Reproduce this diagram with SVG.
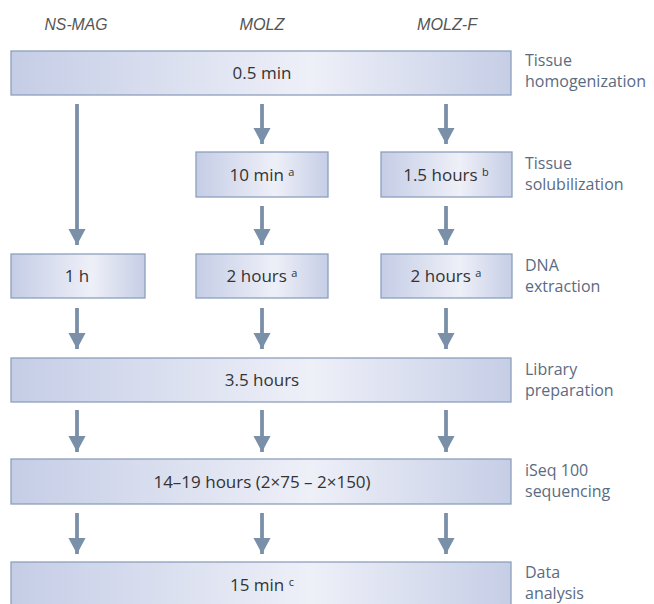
<svg xmlns="http://www.w3.org/2000/svg" width="654" height="604" viewBox="0 0 654 604">
<defs>
<linearGradient id="g" x1="0" y1="0" x2="1" y2="0">
<stop offset="0" stop-color="#c5cde6"/>
<stop offset="0.6" stop-color="#eef0f8"/>
<stop offset="1" stop-color="#c6cee6"/>
</linearGradient>
<marker id="ah" markerWidth="4.5" markerHeight="4.5" refX="4.2" refY="2.25" orient="auto" markerUnits="strokeWidth">
<path d="M0,0 L4.2,2.25 L0,4.5 z" fill="#7a8fa8"/>
</marker>
</defs>
<style>
.box{fill:url(#g);stroke:#8d9fbc;stroke-width:1.3}
.t{font-family:"Open Sans","Liberation Sans",sans-serif;font-size:17px;fill:#333;text-anchor:middle}
.sup{font-size:11px}
.lab{font-family:"Open Sans","Liberation Sans",sans-serif;font-size:16px;fill:#5b6b82}
.hd{font-family:"Liberation Sans",Arial,sans-serif;font-style:italic;font-size:16px;fill:#555;text-anchor:middle}
.c line{stroke:#7a8fa8;stroke-width:3.8;marker-end:url(#ah)}
</style>
<g id="headers">
<text class="hd" x="76" y="30" textLength="63" lengthAdjust="spacingAndGlyphs">NS-MAG</text>
<text class="hd" x="262" y="30" textLength="45" lengthAdjust="spacingAndGlyphs">MOLZ</text>
<text class="hd" x="447" y="30" textLength="60" lengthAdjust="spacingAndGlyphs">MOLZ-F</text>
</g>
<g id="labels">
<text class="lab" x="525" y="66">Tissue</text>
<text class="lab" x="525" y="87">homogenization</text>
<text class="lab" x="525" y="169">Tissue</text>
<text class="lab" x="525" y="190">solubilization</text>
<text class="lab" x="525" y="271">DNA</text>
<text class="lab" x="525" y="292">extraction</text>
<text class="lab" x="525" y="375">Library</text>
<text class="lab" x="525" y="396">preparation</text>
<text class="lab" x="525" y="476">iSeq 100</text>
<text class="lab" x="525" y="497">sequencing</text>
<text class="lab" x="525" y="578">Data</text>
<text class="lab" x="525" y="599">analysis</text>
</g>
<g id="n-homog">
<rect class="box" x="11" y="51" width="500" height="44"/>
<text class="t" x="262" y="79">0.5 min</text>
</g>
<g id="n-sol-molz">
<rect class="box" x="196" y="152" width="132" height="45"/>
<text class="t" x="262" y="181">10 min <tspan class="sup" dy="-5">a</tspan></text>
</g>
<g id="n-sol-molzf">
<rect class="box" x="381" y="152" width="131" height="45"/>
<text class="t" x="446" y="181">1.5 hours <tspan class="sup" dy="-5">b</tspan></text>
</g>
<g id="n-ext-nsmag">
<rect class="box" x="11" y="254" width="134" height="44"/>
<text class="t" x="77" y="282">1 h</text>
</g>
<g id="n-ext-molz">
<rect class="box" x="196" y="254" width="132" height="44"/>
<text class="t" x="262" y="282">2 hours <tspan class="sup" dy="-5">a</tspan></text>
</g>
<g id="n-ext-molzf">
<rect class="box" x="381" y="254" width="131" height="44"/>
<text class="t" x="446" y="282">2 hours <tspan class="sup" dy="-5">a</tspan></text>
</g>
<g id="n-lib">
<rect class="box" x="11" y="358" width="500" height="44"/>
<text class="t" x="262" y="386">3.5 hours</text>
</g>
<g id="n-seq">
<rect class="box" x="11" y="459" width="500" height="45"/>
<text class="t" x="262" y="488">14–19 hours (2×75 – 2×150)</text>
</g>
<g id="n-data">
<rect class="box" x="11" y="562" width="500" height="50"/>
<text class="t" x="262" y="591">15 min <tspan class="sup" dy="-5">c</tspan></text>
</g>
<g id="connectors" class="c">
<line x1="77" y1="104" x2="77" y2="245"/>
<line x1="262" y1="104" x2="262" y2="144"/>
<line x1="446" y1="104" x2="446" y2="144"/>
<line x1="262" y1="206" x2="262" y2="245"/>
<line x1="446" y1="206" x2="446" y2="245"/>
<line x1="77" y1="308" x2="77" y2="349"/>
<line x1="262" y1="308" x2="262" y2="349"/>
<line x1="446" y1="308" x2="446" y2="349"/>
<line x1="77" y1="410" x2="77" y2="452"/>
<line x1="262" y1="410" x2="262" y2="452"/>
<line x1="446" y1="410" x2="446" y2="452"/>
<line x1="77" y1="513" x2="77" y2="554"/>
<line x1="262" y1="513" x2="262" y2="554"/>
<line x1="446" y1="513" x2="446" y2="554"/>
</g>
</svg>
